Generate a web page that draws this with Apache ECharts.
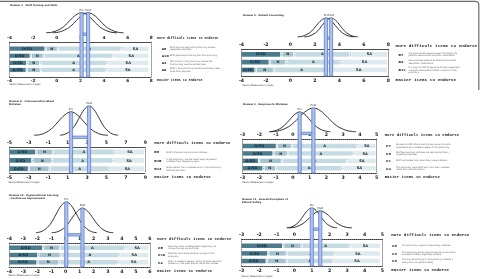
<!DOCTYPE html>
<html><head><meta charset="utf-8">
<script src="https://cdn.jsdelivr.net/npm/echarts@6/dist/echarts.min.js"></script>
<style>html,body{margin:0;padding:0;background:#fff}#c{width:480px;height:279px}</style>
</head><body><div id="c"></div>
<script>
// ---------- DATA ----------
const segNames = ['D/SD', 'N', 'A', 'SA'];
const topName = 'More difficult items to endorse';
const bottomName = 'Easier items to endorse';
const unitName = 'Person Measures in Logits';
const curveNames = ['Pre', 'Post'];

// Panel 1
const p1Title = 'Domain 3 - Staff Training and Skills';
const p1Axis = [-4, 8, 2];
const p1Items = ['A8', 'A10', 'A3', 'A6'];
const p1Text = ['Staff who are new to this pharmacy receive\nadequate orientation.', 'Staff get enough training from this pharmacy.', 'Technicians in this pharmacy receive the\ntraining they need to do their jobs.', 'Staff in this pharmacy have the skills they need\nto do their jobs well.'];
const p1DSD = [-0.95, -2.2, -2.5, -2.55];
const p1N = [0.1, -1.1, -1.4, -1.35];
const p1A = [5.48, 4.77, 4.26, 4.2];
const p1SA = [7.75, 7.75, 7.75, 7.75];
const p1Means = [2.1, 2.65];
const p1PreX = [-0.9, -0.4, 0.1, 0.6, 1.1, 1.6, 2.1, 2.6, 3.1, 3.6, 4.1, 4.6, 5.1];
const p1PreY = [0.01, 0.04, 0.14, 0.32, 0.61, 0.88, 1, 0.88, 0.61, 0.32, 0.14, 0.04, 0.01];
const p1PostX = [-0.35, 0.15, 0.65, 1.15, 1.65, 2.15, 2.65, 3.15, 3.65, 4.15, 4.65, 5.15, 5.65];
const p1PostY = [0.01, 0.04, 0.14, 0.32, 0.61, 0.88, 1, 0.88, 0.61, 0.32, 0.14, 0.04, 0.01];

// Panel 2
const p2Title = 'Domain 5 - Patient Counseling';
const p2Axis = [-4, 8, 2];
const p2Items = ['B7', 'B2', 'B11'];
const p2Text = ['Our pharmacists spend enough time talking to\npatients about how to use their medications.', 'We encourage patients to talk to pharmacists\nabout their medications.', 'It is easy for staff to speak up to their supervisor/\nmanager about patient safety concerns in this\npharmacy.'];
const p2DSD = [-0.75, -1.7, -2.85];
const p2N = [0.3, -0.35, -1.35];
const p2A = [4.9, 4.1, 3.15];
const p2SA = [7.9, 7.9, 7.9];
const p2Means = [2.89, 3.31];
const p2PreX = [0.58, 0.97, 1.35, 1.74, 2.12, 2.51, 2.89, 3.28, 3.66, 4.05, 4.43, 4.82, 5.2];
const p2PreY = [0.01, 0.04, 0.14, 0.32, 0.61, 0.88, 1, 0.88, 0.61, 0.32, 0.14, 0.04, 0.01];
const p2PostX = [1.12, 1.49, 1.85, 2.22, 2.58, 2.95, 3.31, 3.68, 4.04, 4.41, 4.77, 5.14, 5.5];
const p2PostY = [0.01, 0.04, 0.14, 0.32, 0.61, 0.88, 1, 0.88, 0.61, 0.32, 0.14, 0.04, 0.01];

// Panel 3
const p3Title = 'Domain 8 - Communication About\nMistakes';
const p3Axis = [-5, 9, 2];
const p3Items = ['B8', 'B15', 'B13'];
const p3Text = ['Staff in the pharmacy discuss mistakes.', 'In this pharmacy, we talk about ways to prevent\nmistakes from happening again.', 'When patient harm mistakes occur in this pharmacy,\nstaff discuss them.'];
const p3DSD = [-2.24, -2.65, -3.0];
const p3N = [-0.52, -0.62, -0.86];
const p3A = [5.86, 5.68, 5.34];
const p3SA = [8.86, 8.86, 8.86];
const p3Means = [1.34, 3.2];
const p3PreX = [-2.47, -1.84, -1.2, -0.57, 0.07, 0.71, 1.34, 1.98, 2.61, 3.25, 3.88, 4.52, 5.15];
const p3PreY = [0.01, 0.03, 0.11, 0.26, 0.49, 0.7, 0.8, 0.7, 0.49, 0.26, 0.11, 0.03, 0.01];
const p3PostX = [0.2, 0.7, 1.2, 1.7, 2.2, 2.7, 3.2, 3.7, 4.2, 4.7, 5.2, 5.7, 6.2];
const p3PostY = [0.01, 0.04, 0.14, 0.32, 0.61, 0.88, 1, 0.88, 0.61, 0.32, 0.14, 0.04, 0.01];

// Panel 4
const p4Title = 'Domain 9 - Response to Mistakes';
const p4Axis = [-3, 5, 1];
const p4Items = ['C7', 'C8', 'C1', 'C4'];
const p4Text = ['We look at staff actions and the way we do things to\nunderstand why mistakes happen in this pharmacy.', 'Staff feel like their mistakes are held against them\n(negatively worded).', 'Staff are treated fairly when they make mistakes.', 'This pharmacy helps staff learn from their mistakes\nrather than punishing them.'];
const p4DSD = [-0.96, -1.16, -2.02, -1.76];
const p4N = [-0.06, -0.3, -0.66, -1.0];
const p4A = [3.83, 3.63, 3.23, 2.93];
const p4SA = [4.93, 4.93, 4.93, 4.93];
const p4Means = [0.4, 1.22];
const p4PreX = [-1.43, -1.13, -0.82, -0.52, -0.21, 0.1, 0.4, 0.71, 1.01, 1.32, 1.62, 1.93, 2.23];
const p4PreY = [0.01, 0.04, 0.12, 0.27, 0.5, 0.73, 0.83, 0.73, 0.5, 0.27, 0.12, 0.04, 0.01];
const p4PostX = [-1.33, -0.91, -0.48, -0.06, 0.37, 0.8, 1.22, 1.65, 2.07, 2.5, 2.92, 3.35, 3.77];
const p4PostY = [0.01, 0.04, 0.14, 0.32, 0.61, 0.88, 1, 0.88, 0.61, 0.32, 0.14, 0.04, 0.01];

// Panel 5
const p5Title = 'Domain 10 - Organizational Learning\n- Continuous Improvement';
const p5Axis = [-4, 6, 1];
const p5Items = ['C5', 'C10', 'C2'];
const p5Text = ['When the same mistake keeps happening, we\nchange the way we do things.', 'Mistakes have led to positive changes in this\npharmacy.', 'When a mistake happens, we try to figure out what\nproblems in the work process led to the mistake.'];
const p5DSD = [-1.59, -1.94, -2.0];
const p5N = [-0.4, -0.35, -0.45];
const p5A = [4.22, 3.81, 3.74];
const p5SA = [5.88, 5.88, 5.88];
const p5Means = [0.05, 1.2];
const p5PreX = [-2.11, -1.75, -1.39, -1.03, -0.67, -0.31, 0.05, 0.41, 0.77, 1.13, 1.49, 1.85, 2.21];
const p5PreY = [0.01, 0.04, 0.14, 0.32, 0.61, 0.88, 1, 0.88, 0.61, 0.32, 0.14, 0.04, 0.01];
const p5PostX = [-0.99, -0.63, -0.26, 0.11, 0.47, 0.84, 1.2, 1.57, 1.93, 2.3, 2.66, 3.03, 3.39];
const p5PostY = [0.01, 0.03, 0.11, 0.26, 0.49, 0.7, 0.8, 0.7, 0.49, 0.26, 0.11, 0.03, 0.01];

// Panel 6
const p6Title = 'Domain 11 - Overall Perception of\nPatient Safety';
const p6Axis = [-3, 5, 1];
const p6Items = ['C6', 'C3', 'C9'];
const p6Text = ['This pharmacy is good at preventing mistakes.', 'This pharmacy places more emphasis on sales than\non patient safety (negatively worded).', 'The way we do things in this pharmacy reflects a\nstrong focus on patient safety.'];
const p6DSD = [-0.64, -1.49, -1.58];
const p6N = [0.41, -0.44, -0.44];
const p6A = [3.15, 2.3, 2.2];
const p6SA = [4.86, 4.86, 4.86];
const p6Means = [0.99, 1.47];
const p6PreX = [-0.45, -0.21, 0.03, 0.27, 0.51, 0.75, 0.99, 1.23, 1.47, 1.71, 1.95, 2.19, 2.43];
const p6PreY = [0.01, 0.04, 0.14, 0.32, 0.61, 0.88, 1, 0.88, 0.61, 0.32, 0.14, 0.04, 0.01];
const p6PostX = [-0.33, -0.03, 0.27, 0.57, 0.87, 1.17, 1.47, 1.77, 2.07, 2.37, 2.67, 2.97, 3.27];
const p6PostY = [0.01, 0.03, 0.12, 0.27, 0.52, 0.75, 0.85, 0.75, 0.52, 0.27, 0.12, 0.03, 0.01];

// ---------- ASSEMBLY ----------
const panels = [
  {title: p1Title, axis: p1Axis, items: p1Items, text: p1Text, dsd: p1DSD, n: p1N, a: p1A, sa: p1SA, means: p1Means, preX: p1PreX, preY: p1PreY, postX: p1PostX, postY: p1PostY},
  {title: p2Title, axis: p2Axis, items: p2Items, text: p2Text, dsd: p2DSD, n: p2N, a: p2A, sa: p2SA, means: p2Means, preX: p2PreX, preY: p2PreY, postX: p2PostX, postY: p2PostY},
  {title: p3Title, axis: p3Axis, items: p3Items, text: p3Text, dsd: p3DSD, n: p3N, a: p3A, sa: p3SA, means: p3Means, preX: p3PreX, preY: p3PreY, postX: p3PostX, postY: p3PostY},
  {title: p4Title, axis: p4Axis, items: p4Items, text: p4Text, dsd: p4DSD, n: p4N, a: p4A, sa: p4SA, means: p4Means, preX: p4PreX, preY: p4PreY, postX: p4PostX, postY: p4PostY},
  {title: p5Title, axis: p5Axis, items: p5Items, text: p5Text, dsd: p5DSD, n: p5N, a: p5A, sa: p5SA, means: p5Means, preX: p5PreX, preY: p5PreY, postX: p5PostX, postY: p5PostY},
  {title: p6Title, axis: p6Axis, items: p6Items, text: p6Text, dsd: p6DSD, n: p6N, a: p6A, sa: p6SA, means: p6Means, preX: p6PreX, preY: p6PreY, postX: p6PostX, postY: p6PostY}
];

// Layout (pixel geometry) per panel
const layout = [
  {x0: 9.5, x1: 151.3, top: 12.7, dotTop: 42, dotBot: 77, cMin: -2.17, bMin: -0.94, bMax: 3.99, barH: 4.2, tick: 4.3, head: 3.3, headGap: 5.7, codeDx: 10.4, descDx: 18.7, tx: 10, ty: 3.5, pmy: 84.8},
  {x0: 241.5, x1: 388.5, top: 18, dotTop: 49.5, dotBot: 76, cMin: -2.05, bMin: -0.61, bMax: 2.77, barH: 4.7, tick: 4.7, head: 4.4, headGap: 7, codeDx: 10, descDx: 20, tx: 243, ty: 13.5, pmy: 85.5},
  {x0: 9.5, x1: 145.3, top: 106, dotTop: 147, dotBot: 173, cMin: -1.27, bMin: -0.6, bMax: 2.51, barH: 4.8, tick: 4.7, head: 4.1, headGap: 9, codeDx: 9, descDx: 21, tx: 9, ty: 100.3, pmy: 182.5},
  {x0: 242.7, x1: 376.7, top: 108, dotTop: 139, dotBot: 173, cMin: -1.71, bMin: -0.94, bMax: 3.64, barH: 4.4, tick: 4.7, head: 4.0, headGap: 8, codeDx: 9.3, descDx: 19.3, tx: 243, ty: 102.5, pmy: 182.5},
  {x0: 9.3, x1: 150, top: 202, dotTop: 243, dotBot: 267, cMin: -1.1, bMin: -0.64, bMax: 2.64, barH: 4.4, tick: 4.7, head: 4.0, headGap: 7, codeDx: 8, descDx: 18, tx: 9, ty: 194.3, pmy: 275.6},
  {x0: 241.7, x1: 382.3, top: 208, dotTop: 239, dotBot: 266, cMin: -1.9, bMin: -0.88, bMax: 2.65, barH: 4.5, tick: 4.7, head: 4.2, headGap: 9, codeDx: 9.7, descDx: 19.7, tx: 242, ty: 198.3, pmy: 276.5}
];

const W = 480, H = 279;
const segColors = ['#4c7b8e', '#a3c3d0', '#c4dbe4', '#ddeaef'];
const segText = ['#102a38', '#2a2a2a', '#2a2a2a', '#2a2a2a'];
const sans = 'DejaVu Sans';
const mono = 'Liberation Mono';
const dotted = {type: [1, 1], color: '#3a3a3a', width: 1};
const bandFill = '#aec1ea';
const bandStroke = '#5d7fcb';

const option = {animation: false, backgroundColor: '#fff', title: [], grid: [], xAxis: [], yAxis: [], series: [],
  graphic: [{type: 'polyline', silent: true, shape: {points: [[0, 1.3], [475.5, 1.3], [477.6, 1.9], [478.6, 3.2], [478.8, 4.5], [478.8, 90]]},
    style: {fill: 'none', stroke: '#6a6a6a', lineWidth: 1.2}}]
};

panels.forEach((p, k) => {
  const L = layout[k];
  const gC = option.grid.length, gB = gC + 1;
  option.grid.push({left: L.x0, right: W - L.x1, top: L.top, bottom: H - L.dotBot});
  option.grid.push({left: L.x0, right: W - L.x1, top: L.dotTop, bottom: H - L.dotBot});

  option.title.push({text: p.title, left: L.tx, top: L.ty, padding: 0,
    textStyle: {fontSize: 2.4, lineHeight: 3, fontWeight: 'bold', fontFamily: sans, color: '#222'}});
  option.title.push({text: unitName, left: L.tx - 0.5, top: L.pmy - 1.5, padding: 0,
    textStyle: {fontSize: 2.4, fontWeight: 'normal', fontFamily: sans, color: '#333'}});

  const xC = option.xAxis.length;
  const [amin, amax, aint] = p.axis;
  option.xAxis.push({gridIndex: gC, type: 'value', min: amin, max: amax, show: false});
  const labelStyle = {fontSize: L.tick, fontWeight: 'bold', color: '#1a1a1a', margin: 2, fontFamily: sans};
  const nameStyle = {fontSize: L.head, fontWeight: 'bold', fontFamily: mono, color: '#1a1a1a', align: 'left'};
  option.xAxis.push({gridIndex: gB, type: 'value', position: 'bottom', min: amin, max: amax, interval: aint,
    axisLine: {show: true, onZero: false, lineStyle: dotted}, axisTick: {show: false}, splitLine: {show: false},
    axisLabel: labelStyle, name: bottomName, nameLocation: 'end', nameGap: L.headGap,
    nameTextStyle: Object.assign({}, nameStyle, {verticalAlign: 'top', padding: [2, 0, 0, 0]})});
  option.xAxis.push({gridIndex: gB, type: 'value', position: 'top', min: amin, max: amax, interval: aint,
    axisLine: {show: true, onZero: false, lineStyle: dotted}, axisTick: {show: false}, splitLine: {show: false},
    axisLabel: labelStyle, name: topName, nameLocation: 'end', nameGap: L.headGap,
    nameTextStyle: Object.assign({}, nameStyle, {verticalAlign: 'bottom', padding: [0, 0, 2, 0]})});

  const yC = option.yAxis.length;
  option.yAxis.push({gridIndex: gC, type: 'value', min: L.cMin, max: 1, show: false});
  ['left', 'right'].forEach(pos => option.yAxis.push({gridIndex: gB, type: 'value', inverse: true, min: L.bMin, max: L.bMax, position: pos,
    axisLine: {show: true, onZero: false, lineStyle: {type: [1, 1], color: '#777', width: 0.8}}, axisTick: {show: false}, axisLabel: {show: false}, splitLine: {show: false}}));

  // bars
  option.series.push({
    type: 'custom', xAxisIndex: xC + 1, yAxisIndex: yC + 1, z: 2, silent: true, clip: false,
    encode: {x: [1, 2, 3, 4], y: 0},
    data: p.items.map((c, i) => [i, p.dsd[i], p.n[i], p.a[i], p.sa[i]]),
    renderItem: (params, api) => {
      const i = api.value(0);
      const b = [amin, api.value(1), api.value(2), api.value(3), api.value(4)];
      const h = L.barH, gap = 2.2;
      const y = api.coord([amin, i])[1];
      const ch = [];
      for (let s = 0; s < 4; s++) {
        const xa = api.coord([b[s], i])[0] + (s > 0 ? gap / 2 : 0);
        const xb = api.coord([b[s + 1], i])[0] - (s < 3 ? gap / 2 : 0);
        ch.push({type: 'rect', shape: {x: xa, y: y - h / 2, width: Math.max(0, xb - xa), height: h}, style: {fill: segColors[s]}});
        ch.push({type: 'text', style: {text: segNames[s], x: (xa + xb) / 2, y: y + 0.2, align: 'center', verticalAlign: 'middle',
          textAlign: 'center', textVerticalAlign: 'middle', fontSize: 3.6, fontWeight: 'bold', fontFamily: sans, fill: segText[s]}});
        if (s > 0) {
          const xs = api.coord([b[s], i])[0];
          ch.push({type: 'line', shape: {x1: xs, y1: y - h / 2 + 0.5, x2: xs, y2: y + h / 2 - 0.5}, style: {stroke: '#555', lineWidth: 0.7, lineDash: [0.7, 0.9]}});
        }
      }
      const xr = api.coord([amax, i])[0];
      ch.push({type: 'text', style: {text: p.items[i], x: xr + L.codeDx, y: y + 0.3, align: 'left', verticalAlign: 'middle',
        textAlign: 'left', textVerticalAlign: 'middle', fontSize: 4, fontWeight: 'bold', fontFamily: mono, fill: '#1a1a1a'}});
      ch.push({type: 'text', style: {text: p.text[i], x: xr + L.descDx, y: y, align: 'left', verticalAlign: 'middle',
        textAlign: 'left', textVerticalAlign: 'middle', fontSize: 2.1, lineHeight: 2.5, fontFamily: sans, fill: '#555'}});
      return {type: 'group', children: ch};
    }
  });

  // curves
  const pk = [Math.max(...p.preY), Math.max(...p.postY)];
  [[p.preX, p.preY], [p.postX, p.postY]].forEach(([xs, ys]) => option.series.push({
    type: 'line', xAxisIndex: xC, yAxisIndex: yC, z: 3, silent: true, smooth: 0.4, showSymbol: false, symbol: 'none',
    data: xs.map((x, j) => [x, ys[j]]), lineStyle: {color: '#1c1c1c', width: 0.9}
  }));

  // pre/post marker bands (custom series, positioned through the axes)
  const bridgeY = -0.06;
  option.series.push({
    type: 'custom', xAxisIndex: xC, yAxisIndex: yC, z: 5, silent: true, clip: false,
    encode: {x: [0, 1], y: [2, 3]},
    data: [[p.means[0], p.means[1], pk[0], pk[1]]],
    renderItem: (params, api) => {
      const a = api.coord([api.value(0), api.value(2)]);
      const b = api.coord([api.value(1), api.value(3)]);
      const yBot = api.coord([api.value(0), L.cMin])[1];
      const yBr = api.coord([api.value(0), bridgeY])[1];
      const w = 3.2, bh = 2.4;
      const st = {fill: bandFill, stroke: bandStroke, lineWidth: 0.8};
      const lab = (t, pt) => ({type: 'text', style: {text: t, x: pt[0], y: pt[1] - 1.2, align: 'center', verticalAlign: 'bottom',
        textAlign: 'center', textVerticalAlign: 'bottom', fontSize: 2.7, fontFamily: sans, fill: '#222'}});
      return {type: 'group', children: [
        {type: 'rect', shape: {x: a[0] - w / 2, y: a[1], width: w, height: yBot - a[1]}, style: st},
        {type: 'rect', shape: {x: b[0] - w / 2, y: b[1], width: w, height: yBot - b[1]}, style: st},
        {type: 'rect', shape: {x: a[0] + w / 2, y: yBr - bh / 2, width: Math.max(0, b[0] - a[0] - w), height: bh}, style: st},
        lab(curveNames[0], a), lab(curveNames[1], b)
      ]};
    }
  });
});

const chart = echarts.init(document.getElementById('c'), null, {renderer: 'canvas'});
chart.setOption(option);
</script>
</body></html>
